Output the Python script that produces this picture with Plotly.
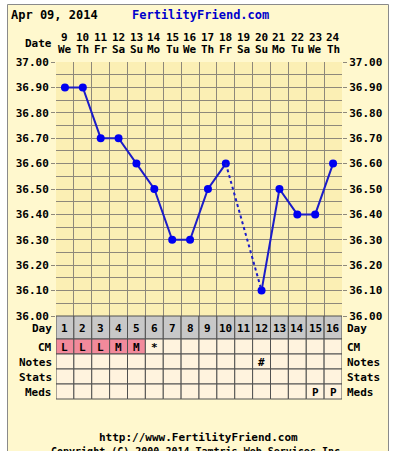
import plotly.graph_objects as go

# ---------------- data ----------------
cycle_days = [1, 2, 3, 4, 5, 6, 7, 8, 9, 10, 11, 12, 13, 14, 15, 16]
dates = [9, 10, 11, 12, 13, 14, 15, 16, 17, 18, 19, 20, 21, 22, 23, 24]
weekdays = ["We", "Th", "Fr", "Sa", "Su", "Mo", "Tu", "We", "Th", "Fr", "Sa", "Su", "Mo", "Tu", "We", "Th"]
temps = [36.90, 36.90, 36.70, 36.70, 36.60, 36.50, 36.30, 36.30,
         36.50, 36.60, None, 36.10, 36.50, 36.40, 36.40, 36.60]
cm_marks = ["L", "L", "L", "M", "M", "*", "", "", "", "", "", "", "", "", "", ""]
notes_marks = ["", "", "", "", "", "", "", "", "", "", "", "#", "", "", "", ""]
stats_marks = ["", "", "", "", "", "", "", "", "", "", "", "", "", "", "", ""]
meds_marks = ["", "", "", "", "", "", "", "", "", "", "", "", "", "", "P", "P"]
temp_ticks = [36.00, 36.10, 36.20, 36.30, 36.40, 36.50, 36.60, 36.70, 36.80, 36.90, 37.00]
temp_minor = [36.05, 36.15, 36.25, 36.35, 36.45, 36.55, 36.65, 36.75, 36.85, 36.95]
header_date = "Apr 09, 2014"
site = "FertilityFriend.com"
url = "http://www.FertilityFriend.com"
copyright_txt = "Copyright (C) 2000-2014 Tamtris Web Services Inc."

# ---------------- geometry (pixels) ----------------
W, H = 398, 451
PL, PR, PT, PB = 56, 342, 62, 316


def X(px):
    return px / W


def Y(py):
    return 1 - py / H


FONT = "DejaVu Sans Mono"
FS = 11
PANEL = "#FFF8CE"
PLOTBG = "#FBEFB4"
GRID = "#8E887A"
BLUE_L = "#1C1CC8"
BLUE_M = "#0000F0"
PINK = "#F28A9B"
CREAM = "#FFF3DE"
GREYROW = "#C8C8C8"
CELLLINE = "#505050"


def f(size=FS, color="#000000"):
    return dict(family=FONT, size=size, color=color, weight="bold")


def ann(x, y, text, xref="paper", xanchor="center", font=None):
    return dict(x=x, y=y, xref=xref, yref="paper", text=text, showarrow=False,
                xanchor=xanchor, yanchor="middle", font=font or f())


fig = go.Figure()

# main temperature line (gaps where missing)
fig.add_trace(go.Scatter(
    x=cycle_days, y=temps, mode="lines+markers", connectgaps=False,
    line=dict(color=BLUE_L, width=2),
    marker=dict(color=BLUE_M, size=8),
    hoverinfo="skip", showlegend=False))

# dashed bridges over missing temperatures
i = 0
n = len(temps)
while i < n:
    if temps[i] is None:
        a = i - 1
        b = i
        while b < n and temps[b] is None:
            b += 1
        if a >= 0 and b < n:
            fig.add_trace(go.Scatter(
                x=[cycle_days[a], cycle_days[b]], y=[temps[a], temps[b]],
                mode="lines", line=dict(color=BLUE_L, width=2, dash="3px,3px"),
                hoverinfo="skip", showlegend=False))
        i = b
    else:
        i += 1

# invisible trace for right axis
fig.add_trace(go.Scatter(x=[cycle_days[0]], y=[temp_ticks[0]], yaxis="y2",
                         mode="markers", marker=dict(opacity=0),
                         hoverinfo="skip", showlegend=False))

shapes = []
# panel
shapes.append(dict(type="rect", xref="paper", yref="paper",
                   x0=X(7.5), x1=X(388.5), y0=-0.05, y1=Y(4.5),
                   fillcolor=PANEL, line=dict(color="#8A8A8A", width=1), layer="below"))
# plot background
shapes.append(dict(type="rect", xref="paper", yref="paper",
                   x0=X(PL), x1=X(PR), y0=Y(PB), y1=Y(PT),
                   fillcolor=PLOTBG, line=dict(width=0), layer="below"))

# table rows: (label, top px, bottom px, marks)
rows = [
    ("Day", 316, 339, [str(d) for d in cycle_days]),
    ("CM", 339, 354, cm_marks),
    ("Notes", 354, 369, notes_marks),
    ("Stats", 369, 384, stats_marks),
    ("Meds", 384, 399, meds_marks),
]

annotations = []
for r, (label, top, bot, marks) in enumerate(rows):
    ly = Y((top + bot) / 2 + 0.5)
    for c, d in enumerate(cycle_days):
        if r == 0:
            fill = GREYROW
        elif label == "CM" and marks[c] in ("L", "M"):
            fill = PINK
        else:
            fill = CREAM
        shapes.append(dict(type="rect", xref="x", yref="paper",
                           x0=d - 0.5, x1=d + 0.5, y0=Y(bot), y1=Y(top),
                           fillcolor=fill, line=dict(color=CELLLINE, width=1),
                           layer="above"))
        if marks[c]:
            annotations.append(ann(d, ly, marks[c], xref="x"))
    annotations.append(ann(X(54), ly, label, xanchor="right"))
    annotations.append(ann(X(345), ly, label, xanchor="left"))

# date header
for c, d in enumerate(cycle_days):
    annotations.append(ann(d, Y(38), str(dates[c]), xref="x"))
    annotations.append(ann(d, Y(50), weekdays[c], xref="x"))
annotations.append(ann(X(54), Y(44), "Date", xanchor="right"))

# title row
annotations.append(ann(X(9), Y(15), header_date, xanchor="left", font=f(12)))
annotations.append(ann(X(130), Y(15), site, xanchor="left", font=f(12, "#0000CC")))

# footer
annotations.append(ann(X(198), Y(437), url))
annotations.append(ann(X(198), Y(451), copyright_txt, font=f(10)))

tick_text = ["%.2f" % t for t in temp_ticks]
yax_common = dict(
    domain=[Y(PB), Y(PT)], range=[temp_ticks[0], temp_ticks[-1]],
    tickmode="array", tickvals=temp_ticks, ticktext=tick_text,
    ticks="outside", ticklen=4, tickcolor=GRID, tickwidth=1,
    tickfont=f(),
    zeroline=False, fixedrange=True,
)

fig.update_layout(
    width=W, height=H,
    margin=dict(l=0, r=0, t=0, b=0, pad=0, autoexpand=False),
    paper_bgcolor="#FFFFFF",
    plot_bgcolor="rgba(0,0,0,0)",
    xaxis=dict(domain=[X(PL), X(PR)], range=[0.5, 16.5],
               tickmode="array", tickvals=[d - 0.5 for d in cycle_days] + [cycle_days[-1] + 0.5],
               showticklabels=False, ticks="", showgrid=True, gridcolor=GRID, gridwidth=1,
               zeroline=False, showline=False, fixedrange=True),
    yaxis=dict(**yax_common, side="left", showgrid=True, gridcolor=GRID, gridwidth=1,
               minor=dict(tickmode="array", tickvals=temp_minor, showgrid=True,
                          gridcolor=GRID, gridwidth=1, ticks="")),
    yaxis2=dict(**yax_common, side="right", overlaying="y", anchor="x", showgrid=False),
    shapes=shapes,
    annotations=annotations,
    showlegend=False,
)

fig.write_html("out.html", config={"displayModeBar": False},
               post_script="document.body.style.margin='0';document.body.style.overflow='hidden';")
